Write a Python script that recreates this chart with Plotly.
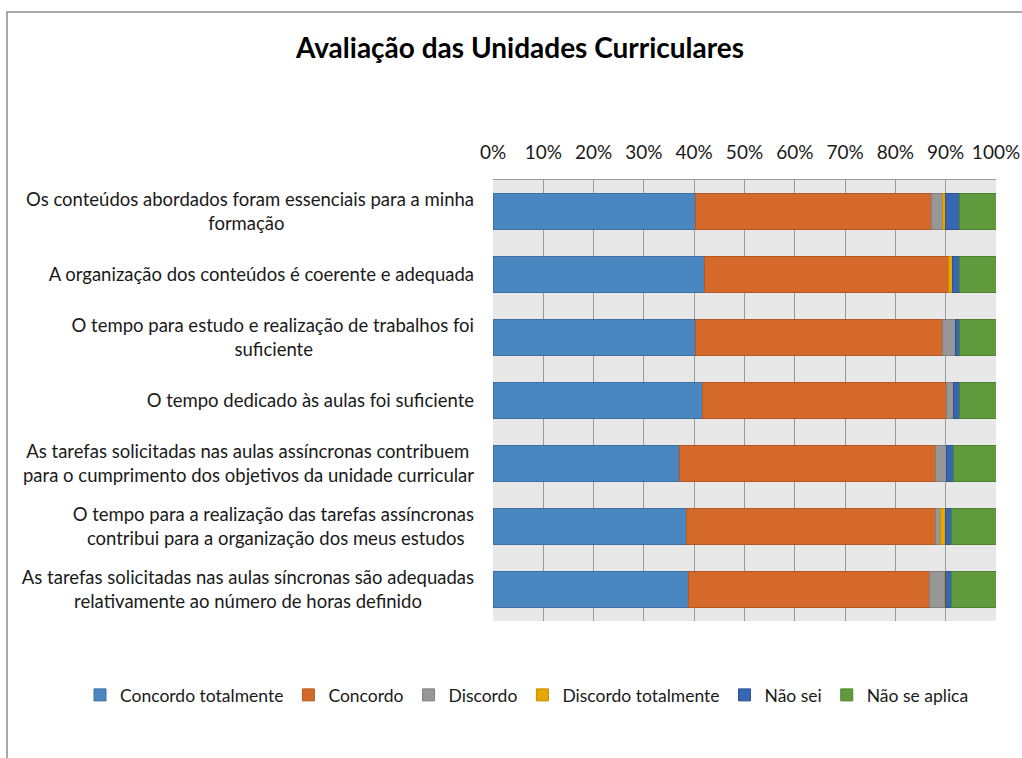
import plotly.graph_objects as go

NB = "\u00a0"

categories = [
    "Os conteúdos abordados foram essenciais para a minha<br>formação" + NB * 40,
    "A organização dos conteúdos é coerente e adequada",
    "O tempo para estudo e realização de trabalhos foi<br>suficiente" + NB * 34,
    "O tempo dedicado às aulas foi suficiente",
    "As tarefas solicitadas nas aulas assíncronas contribuem" + NB + "<br>para o cumprimento dos objetivos da unidade curricular",
    "O tempo para a realização das tarefas assíncronas<br>contribui para a organização dos meus estudos" + NB * 2,
    "As tarefas solicitadas nas aulas síncronas são adequadas<br>relativamente ao número de horas definido" + NB * 11,
]

series_names = ["Concordo totalmente", "Concordo", "Discordo", "Discordo totalmente", "Não sei", "Não se aplica"]

concordo_totalmente = [40.2, 42.1, 40.2, 41.6, 37.0, 38.4, 38.9]
concordo = [47.0, 48.4, 49.1, 48.5, 50.9, 49.5, 47.8]
discordo = [2.1, 0.0, 2.7, 1.4, 2.2, 1.0, 3.0]
discordo_totalmente = [0.7, 0.9, 0.0, 0.0, 0.0, 1.1, 0.3]
nao_sei = [2.7, 1.3, 0.7, 1.2, 1.4, 1.1, 1.1]
nao_se_aplica = [7.3, 7.3, 7.3, 7.3, 8.5, 8.9, 8.9]

tick_values = list(range(0, 101, 10))
tick_labels = [f"{v}%" for v in tick_values]

colors = ["#4A86BF", "#D5692A", "#979797", "#E6A800", "#3766B4", "#5F9A3C"]
edge = ["#3E71A1", "#B45823", "#7F7F7F", "#C28E00", "#2C5290", "#4F8231"]

values = [concordo_totalmente, concordo, discordo, discordo_totalmente, nao_sei, nao_se_aplica]

fig = go.Figure()
for name, vals, c, e in zip(series_names, values, colors, edge):
    fig.add_trace(go.Bar(
        y=categories, x=vals, name=name, orientation="h",
        marker=dict(color=c, line=dict(color=e, width=1)),
        hoverinfo="x+name",
    ))

FONT = "Lato"
W, H = 1022, 758
L, T, R, B = 493, 180, 26, 137
PW = W - L - R
PH = H - T - B

fig.update_layout(
    width=W, height=H,
    barmode="stack", bargap=0.42,
    paper_bgcolor="white", plot_bgcolor="#E8E8E8",
    margin=dict(l=L, r=R, t=T, b=B, autoexpand=False),
    font=dict(family=FONT, size=18.5, color="#1a1a1a"),
    title=dict(text="<b>Avaliação das Unidades Curriculares</b>", x=520 / W, xanchor="center",
               xref="container", y=1 - 48 / H, yanchor="middle", yref="container",
               font=dict(family=FONT, size=28, color="#000000")),
    xaxis=dict(range=[0, 100], side="top", tickvals=tick_values, ticktext=tick_labels,
               showgrid=True, gridcolor="#9A9A9A", gridwidth=1, zeroline=False,
               ticks="", ticklen=0, ticklabelstandoff=12, automargin=False,
               showline=True, linecolor="#9A9A9A", mirror=False,
               tickfont=dict(size=19, color="#1a1a1a")),
    yaxis=dict(autorange="reversed", showgrid=False, ticks="", automargin=False,
               tickfont=dict(size=18.5, color="#1a1a1a"),
               ticklabelstandoff=18, showline=False),
    legend=dict(orientation="h", xref="paper", yref="paper",
                x=(80 - L) / PW, xanchor="left", y=(T + PH - 695) / PH, yanchor="middle",
                font=dict(size=17.5, color="#1a1a1a"), traceorder="normal",
                itemwidth=30, bgcolor="rgba(0,0,0,0)"),
    showlegend=True,
)

fig.add_shape(type="rect", xref="paper", yref="paper",
              x0=(7 - L) / PW, x1=(W + 20 - L) / PW,
              y0=-(H + 20 - T - PH) / PH, y1=(T + PH - 12) / PH,
              line=dict(color="#8C8C8C", width=1.5), fillcolor="rgba(0,0,0,0)", layer="below")

fig.write_html("out.html", config={"displayModeBar": False},
               post_script="document.body.style.margin='0';document.body.style.overflow='hidden';")
